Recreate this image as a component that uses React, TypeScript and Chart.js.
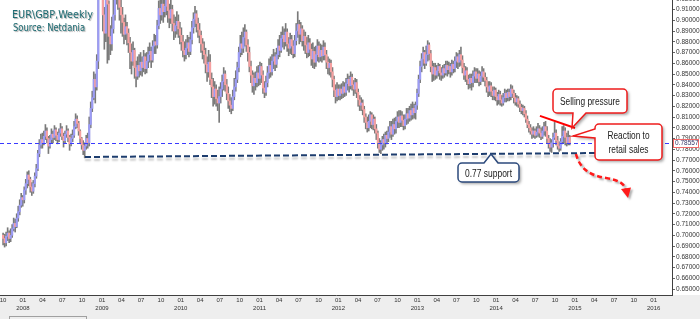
import React, { useEffect, useRef } from "react";
import { Chart, registerables } from "chart.js";

Chart.register(...registerables);

// ---- Weekly EUR/GBP data, week 0 = first week of Oct 2007 ----
const close2007 = [0.697,0.693,0.699,0.702,0.697,0.700,0.706,0.711,0.708,0.716,0.722,0.728,0.735];
const high2007 = [0.702,0.701,0.703,0.707,0.704,0.706,0.710,0.716,0.715,0.720,0.727,0.733,0.739];
const low2007 = [0.691,0.689,0.690,0.695,0.693,0.694,0.698,0.704,0.703,0.707,0.713,0.719,0.726];

const close2008 = [0.733,0.742,0.748,0.756,0.752,0.745,0.741,0.748,0.755,0.762,0.776,0.784,0.789,0.786,0.792,0.797,0.790,0.783,0.789,0.794,0.791,0.798,0.793,0.789,0.795,0.799,0.792,0.788,0.794,0.797,0.791,0.785,0.790,0.793,0.801,0.808,0.804,0.797,0.790,0.784,0.779,0.783,0.790,0.786,0.803,0.818,0.828,0.845,0.838,0.862,0.925,0.955];
const high2008 = [0.737,0.745,0.752,0.759,0.760,0.754,0.749,0.751,0.758,0.766,0.779,0.789,0.794,0.795,0.797,0.803,0.800,0.792,0.793,0.799,0.797,0.802,0.800,0.796,0.799,0.804,0.801,0.795,0.797,0.802,0.799,0.793,0.794,0.798,0.806,0.813,0.811,0.806,0.798,0.791,0.788,0.786,0.793,0.795,0.810,0.824,0.834,0.852,0.850,0.868,0.940,0.982];
const low2008 = [0.727,0.730,0.738,0.744,0.746,0.740,0.737,0.739,0.745,0.753,0.760,0.773,0.781,0.781,0.784,0.789,0.786,0.776,0.781,0.786,0.786,0.789,0.788,0.785,0.787,0.792,0.789,0.782,0.786,0.791,0.787,0.779,0.783,0.787,0.791,0.799,0.800,0.793,0.786,0.780,0.775,0.772,0.780,0.781,0.783,0.800,0.815,0.826,0.823,0.835,0.855,0.920];

const close2009 = [0.945,0.905,0.888,0.925,0.915,0.885,0.878,0.892,0.905,0.925,0.935,0.925,0.912,0.905,0.898,0.887,0.894,0.888,0.879,0.870,0.862,0.872,0.856,0.848,0.858,0.853,0.861,0.856,0.866,0.855,0.862,0.868,0.871,0.863,0.876,0.880,0.877,0.895,0.911,0.905,0.915,0.908,0.913,0.922,0.909,0.902,0.910,0.897,0.890,0.895,0.899,0.892];
const high2009 = [0.975,0.948,0.912,0.950,0.935,0.918,0.895,0.903,0.922,0.945,0.950,0.942,0.930,0.920,0.912,0.902,0.905,0.898,0.892,0.884,0.878,0.880,0.874,0.862,0.866,0.868,0.870,0.866,0.872,0.869,0.870,0.875,0.879,0.875,0.881,0.887,0.886,0.900,0.918,0.920,0.925,0.922,0.930,0.933,0.925,0.915,0.919,0.914,0.905,0.903,0.908,0.905];
const low2009 = [0.925,0.890,0.873,0.880,0.860,0.863,0.868,0.872,0.888,0.900,0.915,0.910,0.900,0.888,0.885,0.878,0.882,0.877,0.870,0.855,0.850,0.858,0.846,0.838,0.845,0.847,0.849,0.848,0.852,0.850,0.851,0.856,0.861,0.856,0.861,0.869,0.869,0.874,0.892,0.897,0.900,0.898,0.903,0.905,0.898,0.893,0.897,0.890,0.882,0.884,0.887,0.884];

const close2010 = [0.886,0.880,0.872,0.868,0.874,0.879,0.871,0.882,0.893,0.901,0.906,0.897,0.891,0.886,0.878,0.872,0.868,0.859,0.852,0.861,0.845,0.838,0.829,0.836,0.827,0.823,0.829,0.836,0.843,0.850,0.840,0.832,0.825,0.821,0.818,0.829,0.838,0.845,0.856,0.870,0.878,0.874,0.884,0.889,0.877,0.870,0.857,0.849,0.839,0.846,0.842,0.851];
const high2010 = [0.898,0.893,0.886,0.880,0.882,0.886,0.884,0.889,0.899,0.907,0.913,0.909,0.902,0.897,0.890,0.883,0.880,0.874,0.866,0.872,0.868,0.851,0.846,0.843,0.840,0.835,0.838,0.842,0.849,0.856,0.853,0.845,0.838,0.831,0.828,0.835,0.846,0.853,0.861,0.875,0.886,0.889,0.893,0.896,0.891,0.882,0.875,0.862,0.853,0.851,0.852,0.857];
const low2010 = [0.878,0.872,0.866,0.862,0.864,0.868,0.866,0.868,0.878,0.888,0.894,0.889,0.884,0.879,0.870,0.864,0.860,0.851,0.843,0.847,0.840,0.828,0.820,0.822,0.820,0.816,0.805,0.823,0.829,0.835,0.834,0.826,0.818,0.815,0.813,0.816,0.826,0.834,0.842,0.852,0.866,0.868,0.870,0.876,0.871,0.862,0.852,0.842,0.833,0.831,0.835,0.838];

const close2011 = [0.846,0.857,0.849,0.837,0.833,0.842,0.851,0.858,0.852,0.862,0.866,0.859,0.868,0.876,0.872,0.883,0.886,0.880,0.889,0.878,0.874,0.882,0.876,0.869,0.881,0.890,0.896,0.887,0.892,0.881,0.885,0.877,0.870,0.879,0.873,0.864,0.871,0.861,0.868,0.876,0.866,0.872,0.867,0.875,0.868,0.861,0.856,0.860,0.852,0.845,0.835,0.829];
const high2011 = [0.858,0.861,0.860,0.853,0.843,0.848,0.857,0.864,0.866,0.868,0.873,0.870,0.874,0.882,0.886,0.889,0.894,0.892,0.897,0.892,0.884,0.888,0.886,0.881,0.886,0.897,0.908,0.900,0.898,0.895,0.891,0.889,0.884,0.886,0.883,0.878,0.879,0.875,0.876,0.882,0.880,0.878,0.877,0.881,0.879,0.872,0.866,0.864,0.863,0.856,0.848,0.840];
const low2011 = [0.839,0.840,0.842,0.832,0.828,0.830,0.838,0.846,0.847,0.849,0.855,0.853,0.856,0.864,0.866,0.870,0.875,0.873,0.876,0.871,0.867,0.869,0.868,0.865,0.866,0.877,0.884,0.878,0.880,0.876,0.872,0.869,0.865,0.866,0.867,0.858,0.856,0.855,0.857,0.862,0.861,0.862,0.861,0.863,0.863,0.855,0.850,0.849,0.847,0.838,0.829,0.823];

const close2012 = [0.836,0.830,0.836,0.832,0.838,0.833,0.841,0.845,0.839,0.847,0.840,0.836,0.842,0.833,0.826,0.821,0.823,0.817,0.810,0.805,0.800,0.806,0.812,0.803,0.808,0.799,0.795,0.786,0.780,0.784,0.789,0.786,0.793,0.790,0.796,0.801,0.794,0.803,0.799,0.806,0.810,0.805,0.811,0.807,0.802,0.808,0.813,0.809,0.816,0.812,0.818,0.814];
const high2012 = [0.842,0.840,0.840,0.841,0.843,0.842,0.846,0.850,0.848,0.852,0.850,0.844,0.846,0.845,0.836,0.830,0.828,0.826,0.820,0.813,0.810,0.812,0.815,0.814,0.812,0.810,0.803,0.797,0.790,0.788,0.792,0.794,0.796,0.797,0.801,0.806,0.806,0.808,0.809,0.810,0.815,0.816,0.816,0.815,0.812,0.812,0.818,0.818,0.820,0.822,0.824,0.822];
const low2012 = [0.825,0.826,0.826,0.827,0.828,0.829,0.830,0.835,0.833,0.836,0.835,0.830,0.832,0.828,0.820,0.816,0.816,0.812,0.805,0.799,0.796,0.797,0.800,0.799,0.798,0.795,0.789,0.781,0.777,0.776,0.779,0.780,0.782,0.785,0.787,0.791,0.789,0.792,0.794,0.795,0.800,0.800,0.801,0.801,0.798,0.799,0.803,0.804,0.806,0.807,0.808,0.809];

const close2013 = [0.821,0.832,0.845,0.857,0.864,0.870,0.860,0.868,0.877,0.869,0.857,0.850,0.856,0.849,0.853,0.857,0.851,0.849,0.855,0.851,0.858,0.854,0.857,0.852,0.859,0.855,0.862,0.866,0.861,0.868,0.863,0.856,0.849,0.853,0.845,0.841,0.846,0.842,0.848,0.852,0.846,0.850,0.843,0.848,0.852,0.847,0.844,0.838,0.834,0.839,0.834,0.830];
const high2013 = [0.824,0.836,0.849,0.862,0.869,0.875,0.872,0.876,0.881,0.879,0.872,0.862,0.860,0.860,0.858,0.860,0.859,0.856,0.858,0.859,0.862,0.862,0.861,0.860,0.863,0.862,0.866,0.870,0.869,0.872,0.875,0.867,0.860,0.857,0.856,0.849,0.850,0.850,0.853,0.856,0.855,0.855,0.853,0.852,0.857,0.855,0.851,0.847,0.843,0.843,0.842,0.838];
const low2013 = [0.808,0.817,0.829,0.842,0.852,0.858,0.855,0.858,0.862,0.863,0.852,0.843,0.844,0.845,0.846,0.848,0.845,0.844,0.846,0.847,0.849,0.848,0.850,0.847,0.849,0.851,0.852,0.856,0.855,0.857,0.858,0.851,0.845,0.843,0.840,0.836,0.837,0.835,0.838,0.842,0.842,0.842,0.839,0.840,0.843,0.843,0.839,0.833,0.829,0.830,0.829,0.826];

const close2014 = [0.835,0.829,0.826,0.831,0.826,0.823,0.828,0.832,0.828,0.833,0.829,0.836,0.832,0.828,0.824,0.827,0.822,0.819,0.816,0.818,0.813,0.808,0.803,0.800,0.797,0.794,0.797,0.793,0.796,0.799,0.795,0.792,0.797,0.801,0.797,0.790,0.785,0.782,0.786,0.791,0.795,0.788,0.783,0.781,0.787,0.792,0.797,0.791,0.786,0.791,0.786];
const high2014 = [0.838,0.837,0.833,0.835,0.834,0.830,0.832,0.836,0.835,0.836,0.836,0.840,0.839,0.835,0.832,0.830,0.829,0.825,0.822,0.821,0.820,0.816,0.811,0.806,0.803,0.800,0.801,0.799,0.801,0.804,0.802,0.800,0.801,0.805,0.806,0.801,0.793,0.790,0.789,0.795,0.805,0.798,0.792,0.787,0.790,0.801,0.802,0.800,0.795,0.797,0.793];
const low2014 = [0.826,0.825,0.821,0.822,0.821,0.820,0.821,0.824,0.824,0.825,0.825,0.826,0.828,0.823,0.821,0.820,0.819,0.815,0.813,0.812,0.810,0.805,0.800,0.796,0.794,0.790,0.791,0.790,0.791,0.792,0.791,0.789,0.790,0.793,0.792,0.786,0.781,0.778,0.777,0.782,0.789,0.784,0.780,0.778,0.779,0.785,0.786,0.784,0.783,0.784,0.784];

const firstOpen = 0.700;

// Axis values
const yTickValues = [0.65,0.66,0.67,0.68,0.69,0.70,0.71,0.72,0.73,0.74,0.75,0.76,0.77,0.78,0.79,0.80,0.81,0.82,0.83,0.84,0.85,0.86,0.87,0.88,0.89,0.90,0.91,0.92];
const axisYears = [2007,2008,2009,2010,2011,2012,2013,2014,2015,2016];
const quarterMonths = ["01","04","07","10"];

// Annotation levels
const currentPrice = 0.78557;
const supportLine = [{ week: 54.2, price: 0.7728 }, { week: 393, price: 0.7765 }];
const sellingLine = [{ week: 355.3, price: 0.811 }, { week: 378.5, price: 0.7998 }];

// ---- derived ----
const closes = [...close2007, ...close2008, ...close2009, ...close2010, ...close2011, ...close2012, ...close2013, ...close2014];
const highs = [...high2007, ...high2008, ...high2009, ...high2010, ...high2011, ...high2012, ...high2013, ...high2014];
const lows = [...low2007, ...low2008, ...low2009, ...low2010, ...low2011, ...low2012, ...low2013, ...low2014];
const opens = closes.map((_, i) => (i === 0 ? firstOpen : closes[i - 1]));

const WEEK = 7 * 864e5;
const axisStart = Date.UTC(2007, 9, 1);
const axisEnd = Date.UTC(2016, 0, 1);
const xTicks: { value: number; month: string; year: string }[] = [];
axisYears.forEach((y) => {
  quarterMonths.forEach((m) => {
    const t = Date.UTC(y, parseInt(m, 10) - 1, 1);
    if (t >= axisStart && t <= axisEnd) {
      xTicks.push({ value: (t - axisStart) / WEEK, month: m, year: m === "01" ? String(y) : "" });
    }
  });
});

function calloutPath(ctx: CanvasRenderingContext2D, x: number, y: number, w: number, h: number, r: number, tail: any) {
  ctx.beginPath();
  ctx.moveTo(x + r, y);
  if (tail.side === "top") { ctx.lineTo(tail.a, y); ctx.lineTo(tail.tx, tail.ty); ctx.lineTo(tail.b, y); }
  ctx.lineTo(x + w - r, y);
  ctx.arcTo(x + w, y, x + w, y + r, r);
  ctx.lineTo(x + w, y + h - r);
  ctx.arcTo(x + w, y + h, x + w - r, y + h, r);
  if (tail.side === "bottom") { ctx.lineTo(tail.b, y + h); ctx.lineTo(tail.tx, tail.ty); ctx.lineTo(tail.a, y + h); }
  ctx.lineTo(x + r, y + h);
  ctx.arcTo(x, y + h, x, y + h - r, r);
  if (tail.side === "left") { ctx.lineTo(x, tail.b); ctx.lineTo(tail.tx, tail.ty); ctx.lineTo(x, tail.a); }
  ctx.lineTo(x, y + r);
  ctx.arcTo(x, y, x + r, y, r);
  ctx.closePath();
}

function drawCallout(ctx: CanvasRenderingContext2D, x: number, y: number, w: number, h: number, tail: any, stroke: string) {
  ctx.save();
  calloutPath(ctx, x, y, w, h, 4, tail);
  ctx.shadowColor = "rgba(0,0,0,0.35)";
  ctx.shadowBlur = 3;
  ctx.shadowOffsetX = 2;
  ctx.shadowOffsetY = 2;
  ctx.fillStyle = "#ffffff";
  ctx.fill();
  ctx.shadowColor = "transparent";
  ctx.lineWidth = 1.5;
  ctx.strokeStyle = stroke;
  ctx.stroke();
  ctx.restore();
}

function fitText(ctx: CanvasRenderingContext2D, text: string, x: number, y: number, width: number, font: string, color: string, align: CanvasTextAlign) {
  ctx.save();
  ctx.font = font;
  const m = ctx.measureText(text).width;
  ctx.translate(x, y);
  ctx.scale(width / m, 1);
  ctx.textAlign = align;
  ctx.textBaseline = "alphabetic";
  ctx.fillStyle = color;
  ctx.fillText(text, 0, 0);
  ctx.restore();
}

const annotationPlugin = {
  id: "annotations",
  beforeDraw(chart: any) {
    const { ctx, width, height, chartArea } = chart;
    ctx.save();
    ctx.fillStyle = "#ffffff";
    ctx.fillRect(0, 0, width, height);
    ctx.fillStyle = "#eeeeee";
    ctx.fillRect(0, chartArea.bottom, width, height - chartArea.bottom);
    ctx.strokeStyle = "#a0a0a0";
    ctx.lineWidth = 1;
    ctx.strokeRect(9.5, 316.5, 77, 8);
    ctx.restore();
  },
  afterDatasetsDraw(chart: any) {
    const { ctx, chartArea, scales } = chart;
    const xs = scales.x;
    const ys = scales.y;
    ctx.save();

    // current price line
    const py = Math.round(ys.getPixelForValue(currentPrice)) + 0.5;
    ctx.strokeStyle = "#3a3aff";
    ctx.lineWidth = 1;
    ctx.setLineDash([4, 3]);
    ctx.beginPath();
    ctx.moveTo(chartArea.left, py);
    ctx.lineTo(chartArea.right, py);
    ctx.stroke();

    // support line with shadow
    ctx.setLineDash([6, 3]);
    ctx.lineWidth = 2;
    ctx.strokeStyle = "#1d3d6e";
    ctx.shadowColor = "rgba(0,0,0,0.22)";
    ctx.shadowOffsetY = 3;
    ctx.shadowBlur = 2;
    ctx.beginPath();
    ctx.moveTo(xs.getPixelForValue(supportLine[0].week), ys.getPixelForValue(supportLine[0].price));
    ctx.lineTo(xs.getPixelForValue(supportLine[1].week), ys.getPixelForValue(supportLine[1].price));
    ctx.stroke();
    ctx.shadowColor = "transparent";
    ctx.setLineDash([]);

    // selling pressure trend line
    ctx.strokeStyle = "#ff0000";
    ctx.lineWidth = 2;
    ctx.beginPath();
    ctx.moveTo(xs.getPixelForValue(sellingLine[0].week), ys.getPixelForValue(sellingLine[0].price));
    ctx.lineTo(xs.getPixelForValue(sellingLine[1].week), ys.getPixelForValue(sellingLine[1].price));
    ctx.stroke();

    // red dashed projection arrow
    ctx.shadowColor = "rgba(0,0,0,0.3)";
    ctx.shadowOffsetX = 2;
    ctx.shadowOffsetY = 2;
    ctx.shadowBlur = 2;
    ctx.strokeStyle = "#ff1a1a";
    ctx.lineWidth = 2.5;
    ctx.setLineDash([5, 3]);
    ctx.beginPath();
    ctx.moveTo(576, 154);
    ctx.bezierCurveTo(580, 170, 592, 176, 606, 178);
    ctx.bezierCurveTo(618, 180, 624, 183, 625.5, 189);
    ctx.stroke();
    ctx.setLineDash([]);
    ctx.fillStyle = "#ff1a1a";
    ctx.beginPath();
    ctx.moveTo(628, 198);
    ctx.lineTo(621, 189);
    ctx.lineTo(631, 187.5);
    ctx.closePath();
    ctx.fill();
    ctx.shadowColor = "transparent";
    ctx.restore();

    // callouts
    drawCallout(ctx, 553, 89, 74, 24, { side: "bottom", a: 573, b: 586, tx: 572, ty: 128 }, "#ee1c1c");
    fitText(ctx, "Selling pressure", 590, 105, 60, "10px 'Liberation Sans'", "#1a1a1a", "center");

    drawCallout(ctx, 595, 124, 67, 36, { side: "left", a: 129, b: 138, tx: 573, ty: 136 }, "#ee1c1c");
    fitText(ctx, "Reaction to", 628.5, 139, 42, "11px 'Liberation Sans'", "#1a1a1a", "center");
    fitText(ctx, "retail sales", 628.5, 153, 40, "11px 'Liberation Sans'", "#1a1a1a", "center");

    drawCallout(ctx, 458, 163, 61, 19, { side: "top", a: 484, b: 498, tx: 491, ty: 154 }, "#2c4a7c");
    fitText(ctx, "0.77 support", 488.5, 176.5, 47, "10px 'Liberation Sans'", "#1a1a1a", "center");
  },
  afterDraw(chart: any) {
    const { ctx, chartArea, scales } = chart;
    const ys = scales.y;
    // price label on axis
    const py = Math.round(ys.getPixelForValue(currentPrice));
    ctx.save();
    ctx.fillStyle = "#ffffff";
    ctx.fillRect(chartArea.right + 1, py - 4, 26, 8);
    ctx.strokeStyle = "#f06a6a";
    ctx.lineWidth = 1;
    ctx.strokeRect(chartArea.right + 1.5, py - 3.5, 25, 8);
    ctx.fillStyle = "#333366";
    ctx.font = "6.5px 'Liberation Sans'";
    ctx.textBaseline = "middle";
    ctx.textAlign = "left";
    ctx.fillText(currentPrice.toFixed(5), chartArea.right + 3, py + 0.5);
    ctx.restore();

    // title
    ctx.save();
    ctx.shadowColor = "rgba(0,0,0,0.35)";
    ctx.shadowOffsetX = 1;
    ctx.shadowOffsetY = 1;
    ctx.shadowBlur = 1;
    fitText(ctx, "EUR\\GBP,Weekly", 12, 17.5, 81, "10px 'DejaVu Sans'", "#1d6b72", "left");
    fitText(ctx, "Source: Netdania", 13, 30.5, 72, "10px 'DejaVu Sans'", "#1d6b72", "left");
    ctx.restore();
  },
};

export default function App() {
  const canvasRef = useRef<HTMLCanvasElement>(null);

  useEffect(() => {
    document.body.style.margin = "0";
    const weeks = closes.map((_, i) => i);
    const wickData = weeks.map((i) => ({
      x: i,
      y: [Math.min(lows[i], opens[i], closes[i]), Math.max(highs[i], opens[i], closes[i])],
    }));
    const bodyData = weeks.map((i) => ({ x: i, y: [opens[i], closes[i]] }));
    const bodyColors = weeks.map((i) => (closes[i] >= opens[i] ? "#9c9cf6" : "#f6a0a0"));

    const chart = new Chart(canvasRef.current as HTMLCanvasElement, {
      type: "bar",
      data: {
        datasets: [
          {
            label: "range",
            data: wickData as any,
            backgroundColor: "#7a7a7a",
            barThickness: 1,
            grouped: false,
            order: 2,
          } as any,
          {
            label: "body",
            data: bodyData as any,
            backgroundColor: bodyColors,
            barThickness: 1.5,
            grouped: false,
            order: 1,
          } as any,
        ],
      },
      options: {
        animation: false,
        responsive: false,
        events: [],
        layout: { padding: 0 },
        plugins: { legend: { display: false }, tooltip: { enabled: false }, title: { display: false } },
        scales: {
          x: {
            type: "linear",
            min: -2.052,
            max: 442.69,
            offset: false,
            grid: { display: false, drawTicks: false },
            border: { display: true, color: "#404040", width: 1 },
            afterBuildTicks: (scale: any) => {
              scale.ticks = xTicks.map((t) => ({ value: t.value }));
            },
            afterFit: (scale: any) => {
              scale.height = 24;
              scale.paddingLeft = 0;
              scale.paddingRight = 0;
            },
            ticks: {
              autoSkip: false,
              maxRotation: 0,
              minRotation: 0,
              padding: 1,
              color: "#333333",
              font: { family: "'Liberation Sans'", size: 6, lineHeight: 1.35 },
              callback: (_v: any, i: number) => (xTicks[i].year ? [xTicks[i].month, xTicks[i].year] : xTicks[i].month),
            },
          },
          y: {
            type: "linear",
            position: "right",
            min: 0.64442,
            max: 0.91884,
            grid: { drawOnChartArea: false, tickLength: 3, color: "#666666" },
            border: { display: true, color: "#404040", width: 1 },
            afterBuildTicks: (scale: any) => {
              scale.ticks = yTickValues.map((v) => ({ value: v }));
            },
            afterFit: (scale: any) => {
              scale.width = 28;
              scale.paddingTop = 0;
              scale.paddingBottom = 0;
            },
            ticks: {
              autoSkip: false,
              padding: 1,
              color: "#333333",
              font: { family: "'Liberation Sans'", size: 6.5 },
              callback: (v: any) => Number(v).toFixed(5),
            },
          },
        },
      } as any,
      plugins: [annotationPlugin],
    });
    return () => chart.destroy();
  }, []);

  return (
    <div style={{ width: 700, height: 319, overflow: "hidden" }}>
      <canvas ref={canvasRef} width={700} height={319} style={{ display: "block" }} />
    </div>
  );
}
